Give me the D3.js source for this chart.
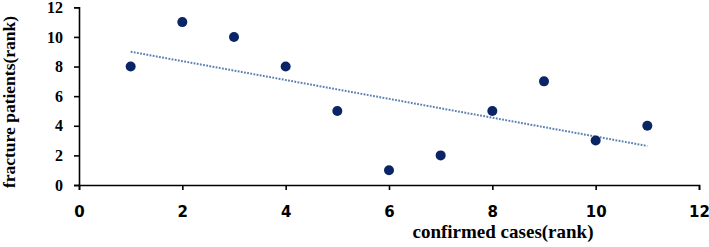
<!DOCTYPE html>
<html>
<head>
<meta charset="utf-8">
<script src="https://cdn.jsdelivr.net/npm/d3@7"></script>
<style>
  body { margin: 0; background: #fff; }
  svg { display: block; }
</style>
</head>
<body>
<div id="chart"></div>
<script>
'use strict';

// confirmed cases rank vs fracture patients rank
var confirmedRank = [1, 2, 3, 4, 5, 6, 7, 8, 9, 10, 11];
var fractureRank  = [8, 11, 10, 8, 5, 1, 2, 5, 7, 3, 4];
var xTicks = [0, 2, 4, 6, 8, 10, 12];
var yTicks = [0, 2, 4, 6, 8, 10, 12];

var width = 709, height = 247;

var svg = d3.select("#chart").append("svg")
    .attr("width", width)
    .attr("height", height);

var x = d3.scaleLinear().domain([0, 12]).range([79, 699]);
var y = d3.scaleLinear().domain([0, 12]).range([185, 7.3]);

// axes
var xAxis = svg.append("g")
    .attr("transform", "translate(0," + y(0) + ")")
    .call(d3.axisBottom(x).tickValues(xTicks).tickSize(5).tickPadding(16));
xAxis.select(".domain").attr("stroke", "#000").attr("stroke-width", 1.6);
xAxis.selectAll(".tick line").attr("stroke", "#000").attr("stroke-width", 1.6);
xAxis.selectAll("text")
    .attr("fill", "#000")
    .style("font-family", "'DejaVu Sans', sans-serif")
    .style("font-weight", "bold")
    .style("font-size", "15px");

var yAxis = svg.append("g")
    .attr("transform", "translate(" + x(0) + ",0)")
    .call(d3.axisLeft(y).tickValues(yTicks).tickSize(5).tickPadding(11));
yAxis.select(".domain").attr("stroke", "#000").attr("stroke-width", 1.6);
yAxis.selectAll(".tick line").attr("stroke", "#000").attr("stroke-width", 1.6);
yAxis.selectAll("text")
    .attr("fill", "#000")
    .style("font-family", "'Liberation Serif', 'Times New Roman', serif")
    .style("font-weight", "bold")
    .style("font-size", "16px");

// least squares trend line
var mx = d3.mean(confirmedRank), my = d3.mean(fractureRank);
var sxy = d3.sum(confirmedRank, function (d, i) { return (d - mx) * (fractureRank[i] - my); });
var sxx = d3.sum(confirmedRank, function (d) { return (d - mx) * (d - mx); });
var slope = sxy / sxx, intercept = my - slope * mx;
var xMin = d3.min(confirmedRank), xMax = d3.max(confirmedRank);

svg.append("line")
    .attr("x1", x(xMin)).attr("y1", y(intercept + slope * xMin))
    .attr("x2", x(xMax)).attr("y2", y(intercept + slope * xMax))
    .attr("stroke", "#5a7fb0")
    .attr("stroke-width", 2)
    .attr("stroke-dasharray", "1.8,1.4");

// points
svg.append("g").selectAll("circle")
    .data(confirmedRank)
    .join("circle")
        .attr("cx", function (d) { return x(d); })
        .attr("cy", function (d, i) { return y(fractureRank[i]); })
        .attr("r", 5)
        .attr("fill", "#0a2566");

// titles
svg.append("text")
    .attr("x", 503)
    .attr("y", 238)
    .attr("text-anchor", "middle")
    .style("font-family", "'Liberation Serif', 'Times New Roman', serif")
    .style("font-weight", "bold")
    .style("font-size", "19px")
    .text("confirmed cases(rank)");

svg.append("text")
    .attr("transform", "translate(15,102) rotate(-90)")
    .attr("text-anchor", "middle")
    .style("font-family", "'Liberation Serif', 'Times New Roman', serif")
    .style("font-weight", "bold")
    .style("font-size", "17.5px")
    .text("fracture patients(rank)");
</script>
</body>
</html>
